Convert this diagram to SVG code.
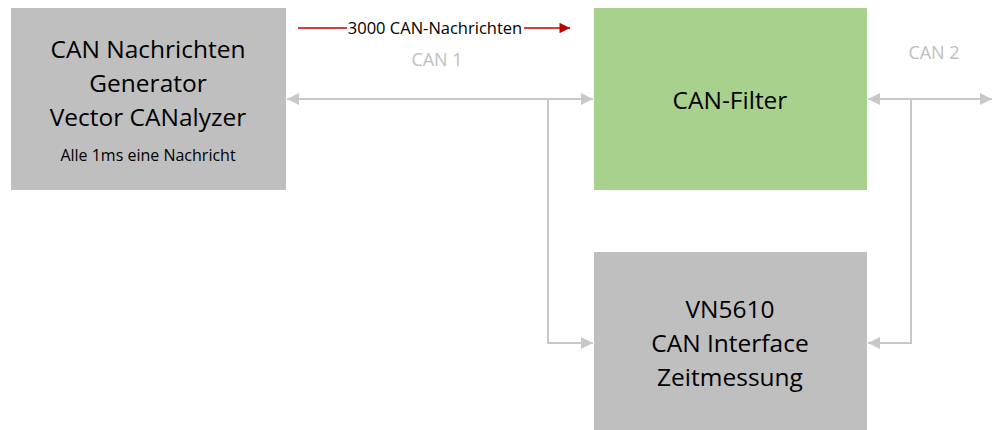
<svg xmlns="http://www.w3.org/2000/svg" width="992" height="430" viewBox="0 0 992 430">
<style>
.box{stroke:none}
.t{font-family:"Open Sans","Liberation Sans",sans-serif;fill:#000;text-anchor:middle}
.big{font-size:24.5px}
.small{font-size:16px}
.lbl{font-family:"Open Sans","Liberation Sans",sans-serif;font-size:18px;fill:#c0c0c0;text-anchor:middle}
.con{fill:none;stroke:#c8c8c8;stroke-width:2}
</style>
<defs>
<marker id="ag" viewBox="0 0 10 10" refX="10" refY="5" markerWidth="6" markerHeight="6" orient="auto-start-reverse" markerUnits="strokeWidth">
<path d="M0,0 L10,5 L0,10 z" fill="#c8c8c8"/>
</marker>
<marker id="ar" viewBox="0 0 10 10" refX="10" refY="5" markerWidth="8" markerHeight="7" orient="auto" markerUnits="strokeWidth">
<path d="M0,0 L10,5 L0,10 z" fill="#c00000"/>
</marker>
</defs>
<rect width="992" height="430" fill="#fff"/>
<g id="generator">
<rect class="box" x="11" y="8" width="275" height="182" fill="#bfbfbf"/>
<text class="t big" x="148" y="58">CAN Nachrichten</text>
<text class="t big" x="148" y="92">Generator</text>
<text class="t big" x="148" y="126">Vector CANalyzer</text>
<text class="t small" x="148" y="161">Alle 1ms eine Nachricht</text>
</g>
<g id="filter">
<rect class="box" x="594" y="8" width="273" height="182" fill="#a9d18e"/>
<text class="t big" x="730" y="109">CAN-Filter</text>
</g>
<g id="vn5610">
<rect class="box" x="594" y="252" width="273" height="180" fill="#bfbfbf"/>
<text class="t big" x="730" y="318">VN5610</text>
<text class="t big" x="730" y="352">CAN Interface</text>
<text class="t big" x="730" y="386">Zeitmessung</text>
</g>
<g id="connectors">
<line x1="298" y1="28" x2="347" y2="28" stroke="#c00000" stroke-width="1.5"/>
<line x1="524" y1="28" x2="570" y2="28" stroke="#c00000" stroke-width="1.5" marker-end="url(#ar)"/>
<line class="con" x1="287" y1="99" x2="593" y2="99" marker-start="url(#ag)" marker-end="url(#ag)"/>
<polyline class="con" points="548,99 548,343 593,343" marker-end="url(#ag)"/>
<line class="con" x1="868" y1="99" x2="992" y2="99" marker-start="url(#ag)" marker-end="url(#ag)"/>
<polyline class="con" points="911,99 911,343 868,343" marker-end="url(#ag)"/>
</g>
<g id="labels">
<text class="t" x="435" y="34" font-size="16.5">3000 CAN-Nachrichten</text>
<text class="lbl" x="437" y="66">CAN 1</text>
<text class="lbl" x="934" y="59">CAN 2</text>
</g>
</svg>
